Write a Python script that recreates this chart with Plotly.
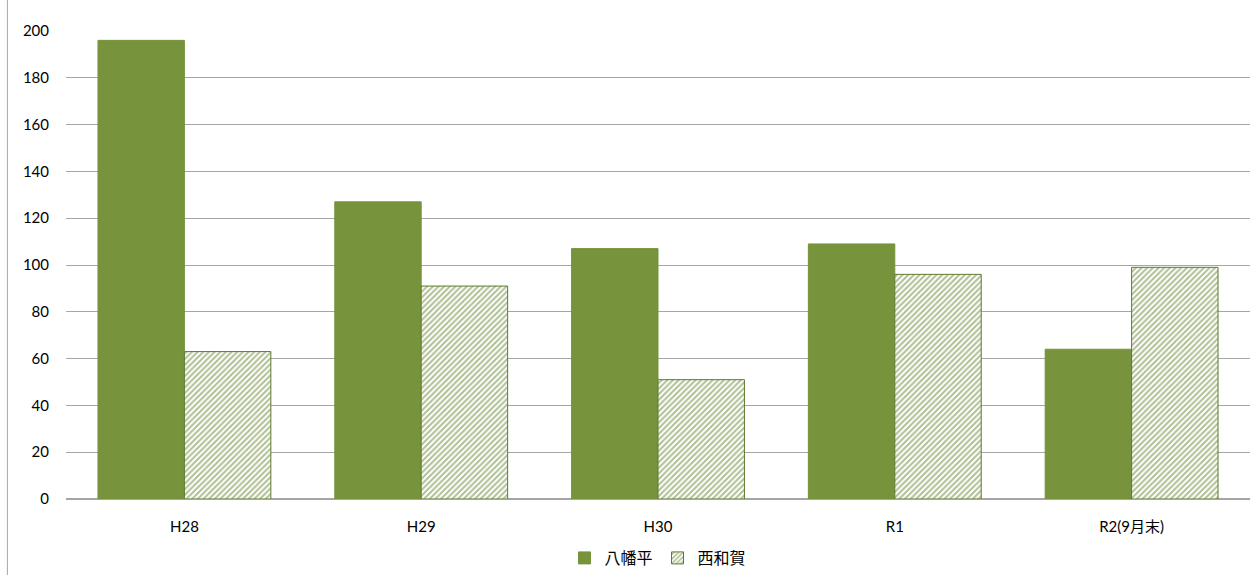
import plotly.graph_objects as go

categories = ["H28", "H29", "H30", "R1", "R2(9月末)"]
yawatadaira = [196, 127, 107, 109, 64]
nishiwaga = [63, 91, 51, 96, 99]

GREEN = "#77933C"
EDGE = "#5E7A2E"
FONT = "Lato, 'Noto Sans CJK JP', sans-serif"

fig = go.Figure()
fig.add_trace(go.Bar(
    name="八幡平", x=categories, y=yawatadaira,
    marker=dict(color=GREEN, line=dict(color=GREEN, width=1)),
))
fig.add_trace(go.Bar(
    name="西和賀", x=categories, y=nishiwaga,
    marker=dict(
        color="white",
        line=dict(color=EDGE, width=1),
        pattern=dict(shape="/", fgcolor="#5F7F28", bgcolor="white", size=4, solidity=0.5),
    ),
))

fig.update_layout(
    width=1259, height=575,
    margin=dict(l=66, r=9, t=31, b=76, autoexpand=False),
    paper_bgcolor="white", plot_bgcolor="white",
    barmode="group", bargap=0.27, bargroupgap=0,
    font=dict(family=FONT, size=15, color="#000000"),
    showlegend=True,
    legend=dict(orientation="h", x=0.5, xanchor="center", y=0, yref="container",
                yanchor="bottom",
                font=dict(size=16, family="'Noto Sans CJK JP', sans-serif"),
                traceorder="normal", itemwidth=30),
    xaxis=dict(showgrid=False, showline=True, linecolor="#A6A6A6", linewidth=1,
               ticks="", ticklabelstandoff=14, tickfont=dict(size=15), automargin=False),
    yaxis=dict(range=[0, 200], dtick=20, showgrid=True, gridcolor="#A6A6A6", gridwidth=1,
               zeroline=True, zerolinecolor="#A6A6A6", showline=False,
               ticks="", ticklabelstandoff=16, tickfont=dict(size=15), automargin=False),
    shapes=[dict(type="line", xref="paper", yref="paper",
                 x0=-0.0495, x1=-0.0495, y0=-0.2, y1=1.1,
                 line=dict(color="#A6A6A6", width=1))],
)

fig.write_html("out.html")
